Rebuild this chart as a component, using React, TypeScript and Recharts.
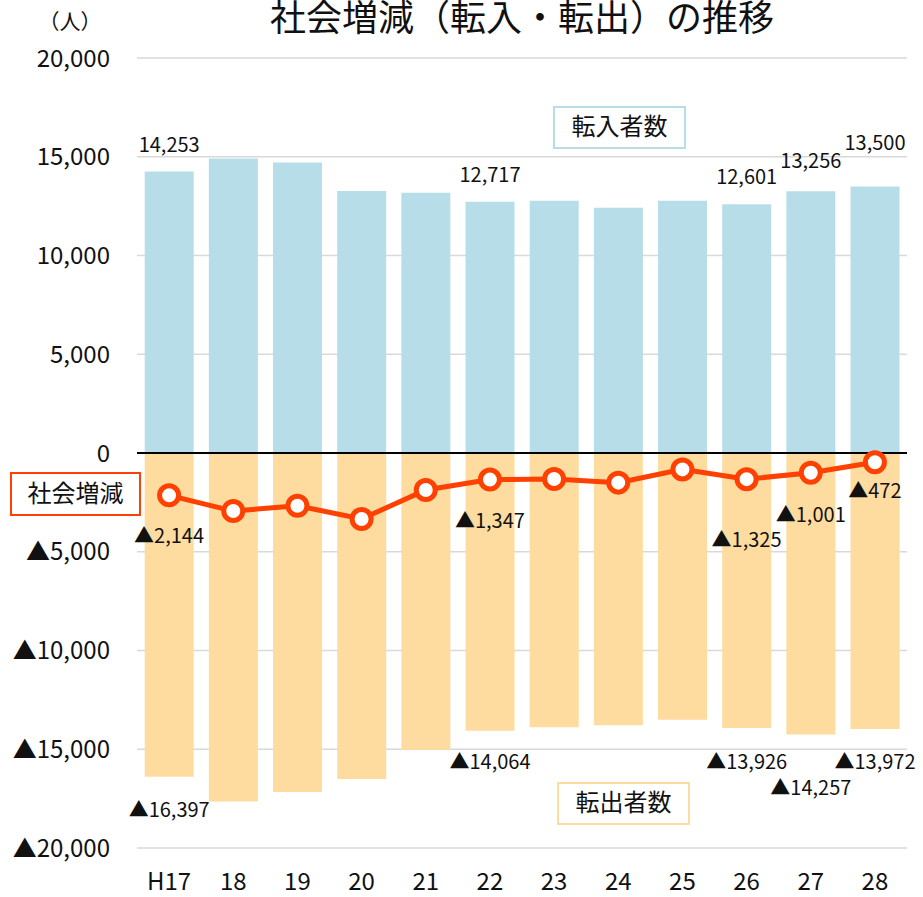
import React from 'react';
import {
  ComposedChart, Bar, Line, XAxis, YAxis, CartesianGrid, ReferenceLine, LabelList
} from 'recharts';

/* 社会増減（転入・転出）の推移 */
const years = ['H17', '18', '19', '20', '21', '22', '23', '24', '25', '26', '27', '28'];
const inflow = [14253, 14910, 14710, 13260, 13180, 12717, 12770, 12420, 12770, 12601, 13256, 13500];
const outflow = [-16397, -17640, -17170, -16500, -15040, -14064, -13880, -13780, -13500, -13926, -14257, -13972];
const net = [-2144, -2940, -2670, -3340, -1870, -1347, -1320, -1500, -830, -1325, -1001, -472];
const yTicks = [-20000, -15000, -10000, -5000, 0, 5000, 10000, 15000, 20000];

// 値ラベルを出す年（index）と、ずらし量（px）
const labelled = [0, 5, 9, 10, 11];
const inDy: Record<number, number> = { 0: 20, 5: 20, 9: 20, 10: 23, 11: 36 };
const outDy: Record<number, number> = { 0: 40, 5: 38, 9: 41, 10: 60, 11: 40 };
const netDy: Record<number, number> = { 0: 48, 5: 48, 9: 68, 10: 49, 11: 36 };

const FONT = '"Noto Sans CJK JP", "Noto Sans", sans-serif';
const BLUE = '#b7dde8';
const ORANGE = '#fedb9e';
const RED = '#fe4000';

const data = years.map((y, i) => ({ year: y, inflow: inflow[i], outflow: outflow[i], net: net[i] }));

const nf = new Intl.NumberFormat('ja-JP');
const fmt = (v: number) => (v < 0 ? '▲' + nf.format(-v) : nf.format(v));

function ValueLabel(kind: 'in' | 'out' | 'net') {
  return (p: any) => {
    const i = p.index;
    if (!labelled.includes(i)) return null;
    const v = kind === 'in' ? inflow[i] : kind === 'out' ? outflow[i] : net[i];
    let cx: number, cy: number;
    if (kind === 'net') {
      cx = p.x;
      cy = p.y + netDy[i];
    } else {
      const w = Number(p.width), h = Number(p.height), y = Number(p.y);
      cx = Number(p.x) + w / 2;
      cy = kind === 'in' ? Math.min(y, y + h) - inDy[i] : Math.max(y, y + h) + outDy[i];
    }
    return (
      <text x={cx} y={cy} textAnchor="middle" fontSize={20} fontFamily={FONT} fill="#111">
        {fmt(v)}
      </text>
    );
  };
}

export default function App() {
  return (
    <div style={{ position: 'absolute', left: 0, top: 0, width: 923, height: 897, background: '#fff', overflow: 'hidden' }}>
      <ComposedChart
        width={923}
        height={897}
        data={data}
        stackOffset="sign"
        barCategoryGap="12%"
        margin={{ top: 58, right: 16, bottom: 0, left: 0 }}
      >
        <CartesianGrid vertical={false} stroke="#d9d9d9" strokeWidth={1.3} />
        <XAxis
          dataKey="year"
          axisLine={false}
          tickLine={false}
          tickSize={0}
          tickMargin={25}
          height={49}
          interval={0}
          tick={{ fontSize: 24, fontFamily: FONT, fill: '#111' }}
        />
        <YAxis
          domain={[-20000, 20000]}
          ticks={yTicks}
          width={137}
          axisLine={false}
          tickLine={false}
          tickSize={0}
          tickMargin={27}
          tickFormatter={fmt}
          tick={{ fontSize: 24, fontFamily: FONT, fill: '#111' }}
        />
        <Bar dataKey="inflow" stackId="a" fill={BLUE} isAnimationActive={false}>
          <LabelList dataKey="inflow" content={ValueLabel('in')} />
        </Bar>
        <Bar dataKey="outflow" stackId="a" fill={ORANGE} isAnimationActive={false}>
          <LabelList dataKey="outflow" content={ValueLabel('out')} />
        </Bar>
        <ReferenceLine y={0} stroke="#000" strokeWidth={2} />
        <Line
          dataKey="net"
          stroke={RED}
          strokeWidth={5}
          dot={{ r: 9.5, fill: '#fff', stroke: RED, strokeWidth: 5 }}
          isAnimationActive={false}
        >
          <LabelList dataKey="net" content={ValueLabel('net')} />
        </Line>
      </ComposedChart>

      {/* タイトル・単位・系列名の枠 */}
      <svg width={923} height={897} style={{ position: 'absolute', left: 0, top: 0, pointerEvents: 'none' }}>
        <text x={522} y={31} textAnchor="middle" fontSize={36} fontFamily={FONT} fill="#111">
          社会増減（転入・転出）の推移
        </text>
        <text x={70} y={29} textAnchor="middle" fontSize={21} fontFamily={FONT} fill="#111">
          （人）
        </text>
        <rect x={554} y={107} width={131} height={41} fill="#fff" stroke={BLUE} strokeWidth={2} />
        <text x={619.5} y={135} textAnchor="middle" fontSize={24} fontFamily={FONT} fill="#111">転入者数</text>
        <rect x={558} y={783} width={131} height={41} fill="#fff" stroke={ORANGE} strokeWidth={2} />
        <text x={623.5} y={811} textAnchor="middle" fontSize={24} fontFamily={FONT} fill="#111">転出者数</text>
        <rect x={11} y={473} width={129} height={42} fill="#fff" stroke={RED} strokeWidth={2} />
        <text x={75.5} y={502} textAnchor="middle" fontSize={24} fontFamily={FONT} fill="#111">社会増減</text>
      </svg>
    </div>
  );
}
